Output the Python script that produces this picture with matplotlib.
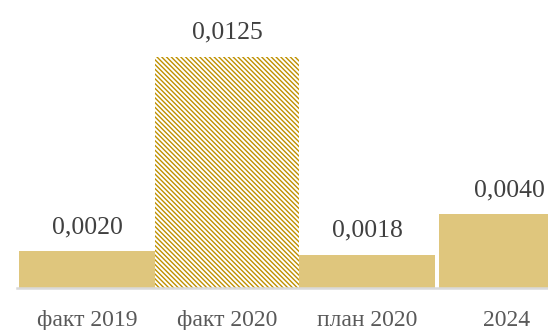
import matplotlib
matplotlib.use("Agg")
import matplotlib.pyplot as plt

# данные
categories = ["факт 2019", "факт 2020", "план 2020", "2024"]
values = [0.0020, 0.0125, 0.0018, 0.0040]
value_labels = ["0,0020", "0,0125", "0,0018", "0,0040"]

plt.rcParams["font.family"] = ["Liberation Serif", "DejaVu Serif"]
plt.rcParams["hatch.linewidth"] = 1.0

fig = plt.figure(figsize=(5.48, 3.30), dpi=100)
ax = fig.add_axes([17 / 548, 42 / 330, 560 / 548, 288 / 330])

x = range(len(categories))
for i, v in enumerate(values):
    if i == 1:
        # факт 2020 - штриховка
        ax.bar(i, v, width=1.035, color="white", edgecolor="#bf9000",
               hatch="\\" * 7, linewidth=0)
    else:
        ax.bar(i, v, width=0.975, color="#dfc67d", edgecolor="none")

for i, (v, lbl) in enumerate(zip(values, value_labels)):
    dx = 2 if i == len(values) - 1 else 0
    ax.annotate(lbl, (i, v), xytext=(dx, 13), textcoords="offset points",
                ha="center", va="baseline", fontsize=18.5, color="#404040")

ax.set_xlim(-0.5, 3.5)
ax.set_ylim(0, 0.015584)
ax.set_xticks(list(x))
ax.set_xticklabels(categories, fontsize=17, color="#595959")
ax.tick_params(axis="x", length=0, pad=15.5)
ax.set_yticks([])

for s in ["top", "right", "left"]:
    ax.spines[s].set_visible(False)
ax.spines["bottom"].set_color("#d9d9d9")
ax.spines["bottom"].set_linewidth(1.8)

fig.savefig("out.png", dpi=100)
